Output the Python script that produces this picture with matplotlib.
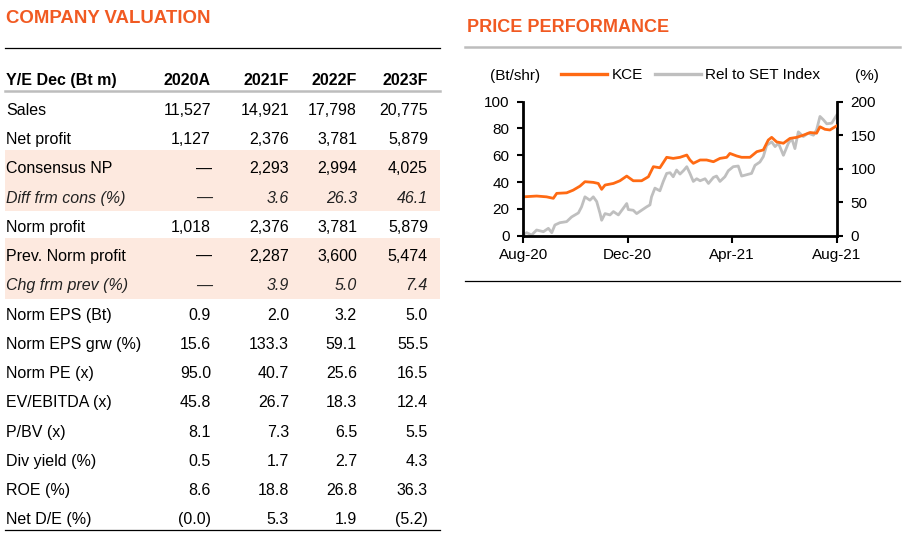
import matplotlib
matplotlib.use('Agg')
import matplotlib.pyplot as plt
from matplotlib.lines import Line2D
from matplotlib.patches import Rectangle

plt.rcParams['font.family'] = ['Liberation Sans', 'DejaVu Sans']

# ---------------- data ----------------
columns = ['2020A', '2021F', '2022F', '2023F']
row_labels = ['Sales', 'Net profit', 'Consensus NP', 'Diff frm cons (%)', 'Norm profit',
              'Prev. Norm profit', 'Chg frm prev (%)', 'Norm EPS (Bt)', 'Norm EPS grw (%)',
              'Norm PE (x)', 'EV/EBITDA (x)', 'P/BV (x)', 'Div yield (%)', 'ROE (%)', 'Net D/E (%)']
sales = ['11,527', '14,921', '17,798', '20,775']
net_profit = ['1,127', '2,376', '3,781', '5,879']
consensus_np = ['\u2014', '2,293', '2,994', '4,025']
diff_cons = ['\u2014', '3.6', '26.3', '46.1']
norm_profit = ['1,018', '2,376', '3,781', '5,879']
prev_norm_profit = ['\u2014', '2,287', '3,600', '5,474']
chg_prev = ['\u2014', '3.9', '5.0', '7.4']
norm_eps = ['0.9', '2.0', '3.2', '5.0']
norm_eps_grw = ['15.6', '133.3', '59.1', '55.5']
norm_pe = ['95.0', '40.7', '25.6', '16.5']
ev_ebitda = ['45.8', '26.7', '18.3', '12.4']
pbv = ['8.1', '7.3', '6.5', '5.5']
div_yield = ['0.5', '1.7', '2.7', '4.3']
roe = ['8.6', '18.8', '26.8', '36.3']
net_de = ['(0.0)', '5.3', '1.9', '(5.2)']
table_rows = [sales, net_profit, consensus_np, diff_cons, norm_profit, prev_norm_profit,
              chg_prev, norm_eps, norm_eps_grw, norm_pe, ev_ebitda, pbv, div_yield, roe, net_de]
italic_rows = {3, 6}
shaded_groups = [(2, 3), (5, 6)]

# price chart (x in months since Aug-20)
kce_months = [0.00, 0.51, 0.89, 1.15, 1.28, 1.66, 1.91, 2.17, 2.36, 2.68, 2.87, 3.00, 3.13,
              3.45, 3.70, 3.96, 4.21, 4.53, 4.79, 4.98, 5.23, 5.49, 5.74, 6.00, 6.26, 6.38,
              6.51, 6.77, 7.02, 7.28, 7.53, 7.79, 7.91, 8.17, 8.36, 8.68, 8.94, 9.19, 9.38,
              9.51, 9.70, 9.96, 10.21, 10.47, 10.72, 10.98, 11.23, 11.36, 11.55, 11.74, 12.00]
kce_price = [29.0, 29.6, 29.0, 27.9, 31.6, 32.0, 34.0, 37.0, 40.3, 39.8, 39.0, 34.6, 37.8,
             39.0, 41.0, 44.5, 41.0, 41.0, 44.0, 51.5, 50.7, 58.5, 57.7, 58.5, 60.2, 56.5,
             54.0, 56.5, 56.5, 55.2, 57.7, 58.5, 61.4, 59.5, 58.5, 58.5, 62.7, 64.0, 71.4,
             73.4, 70.0, 69.0, 72.6, 73.4, 75.0, 77.0, 76.5, 81.3, 79.4, 78.9, 82.0]
rel_months = [0.00, 0.13, 0.32, 0.51, 0.77, 0.96, 1.09, 1.21, 1.40, 1.66, 1.85, 2.11, 2.23,
              2.36, 2.55, 2.68, 2.81, 2.94, 3.00, 3.13, 3.32, 3.45, 3.64, 3.83, 3.96, 4.02,
              4.21, 4.34, 4.53, 4.72, 4.85, 4.91, 5.04, 5.23, 5.36, 5.49, 5.62, 5.74, 5.87,
              6.00, 6.13, 6.26, 6.38, 6.51, 6.64, 6.77, 6.96, 7.09, 7.28, 7.40, 7.53, 7.72,
              7.85, 8.04, 8.23, 8.36, 8.55, 8.74, 8.87, 9.06, 9.19, 9.32, 9.51, 9.64, 9.77,
              9.96, 10.15, 10.28, 10.40, 10.53, 10.72, 10.91, 11.11, 11.23, 11.36, 11.49,
              11.62, 11.81, 12.00]
rel_set = [2, 4.5, 1, 8.5, 6, 11, 4.5, 16, 19.4, 21, 28, 34, 43,
           58, 53, 58, 51, 33, 23, 33, 31, 36, 31, 41, 48, 39,
           38, 33, 38, 43, 46, 58, 71, 67, 81, 93, 94, 88, 98,
           92, 97, 103, 93, 81, 85, 82, 85, 78, 87, 89, 81, 88,
           97, 103, 104, 89, 91, 93, 105, 110, 118, 135, 140, 133, 138,
           120, 138, 145, 130, 155, 148, 153, 150, 158, 178, 173,
           167, 168, 180]
x_ticks = [0, 4, 8, 12]
x_tick_labels = ['Aug-20', 'Dec-20', 'Apr-21', 'Aug-21']
left_ticks = [0, 20, 40, 60, 80, 100]
right_ticks = [0, 50, 100, 150, 200]

# ---------------- style ----------------
TITLE_ORANGE = '#F15A22'
LINE_ORANGE = '#FF6A13'
LINE_GRAY = '#BFBFBF'
SHADE = '#FDE9DF'
W, H = 914, 545

fig = plt.figure(figsize=(W / 100, H / 100), dpi=100)
bg = fig.add_axes([0, 0, 1, 1])
bg.set_xlim(0, W)
bg.set_ylim(H, 0)
bg.axis('off')

def cap(fs):
    return fs * 100 / 72 * 0.716

# titles
TFS = 13.4
bg.text(6, 16.7 + cap(TFS) / 2, 'COMPANY VALUATION', fontsize=TFS, fontweight='bold',
        color=TITLE_ORANGE, va='baseline', ha='left')
bg.text(467, 25 + cap(TFS) / 2, 'PRICE PERFORMANCE', fontsize=13, fontweight='bold',
        color=TITLE_ORANGE, va='baseline', ha='left')

# table
FS = 11.5
col_right = [211, 289, 357, 428]
header_y = 79
row_y0 = 109.3
row_step = 29.24
band_half = 14.6

for a, b in shaded_groups:
    y_top = row_y0 + a * row_step - band_half - 3
    y_bot = row_y0 + b * row_step + band_half - 0.5
    bg.add_patch(Rectangle((5, y_top), 435, y_bot - y_top, facecolor=SHADE,
                           edgecolor='none', zorder=0))

bg.add_line(Line2D([5, 440], [48, 48], color='black', lw=0.9))
bg.add_line(Line2D([5, 440], [90.5, 90.5], color='#BDBDBD', lw=1.8))
bg.add_line(Line2D([5, 440], [530, 530], color='black', lw=0.9))

bg.text(6, header_y + cap(FS) / 2, 'Y/E Dec (Bt m)', fontsize=FS, fontweight='bold',
        va='baseline', ha='left')
for c, xr in zip(columns, col_right):
    bg.text(xr, header_y + cap(FS) / 2, c, fontsize=FS, fontweight='bold',
            va='baseline', ha='right')

for i, (lab, vals) in enumerate(zip(row_labels, table_rows)):
    y = row_y0 + i * row_step + cap(FS) / 2
    style = 'italic' if i in italic_rows else 'normal'
    color = '#222222' if i in italic_rows else 'black'
    bg.text(6, y, lab, fontsize=FS, style=style, color=color, va='baseline', ha='left')
    for v, xr in zip(vals, col_right):
        xx = xr + 1 if v == '\u2014' else xr
        bg.text(xx, y, v, fontsize=FS, style=style, color=color, va='baseline', ha='right')

# right side rules
bg.add_line(Line2D([465, 900], [47, 47], color='#BDBDBD', lw=1.8))
bg.add_line(Line2D([465, 900], [281, 281], color='black', lw=0.9))

# chart
ax_l, ax_r, ax_t, ax_b = 523.3, 836.7, 101.7, 235.7
ax = fig.add_axes([ax_l / W, 1 - ax_b / H, (ax_r - ax_l) / W, (ax_b - ax_t) / H])
ax2 = ax.twinx()
ax2.plot(rel_months, rel_set, color=LINE_GRAY, lw=2.0, solid_joinstyle='round')
ax.plot(kce_months, kce_price, color=LINE_ORANGE, lw=2.0, solid_joinstyle='round')
ax.set_zorder(ax2.get_zorder() + 1)
ax.patch.set_visible(False)

ax.set_xlim(0, 12)
ax.set_ylim(0, 100)
ax2.set_ylim(0, 200)
ax.set_xticks(x_ticks)
ax.set_xticklabels(x_tick_labels)
ax.set_yticks(left_ticks)
ax2.set_yticks(right_ticks)

CFS = 11
for s in ['top', 'right']:
    ax.spines[s].set_visible(False)
for s in ['top', 'left', 'bottom']:
    ax2.spines[s].set_visible(False)
for s in ['left', 'bottom']:
    ax.spines[s].set_linewidth(2.0)
ax2.spines['right'].set_linewidth(2.0)

ax.tick_params(axis='y', direction='out', length=4, width=1.5, pad=6, labelsize=CFS)
ax.tick_params(axis='x', direction='out', length=5, width=1.5, pad=4, labelsize=CFS)
ax2.tick_params(axis='y', direction='out', length=4, width=1.5, pad=6, labelsize=CFS)

handles = [Line2D([], [], color=LINE_ORANGE, lw=2.4), Line2D([], [], color=LINE_GRAY, lw=2.4)]
fig.legend(handles, ['KCE', 'Rel to SET Index'], loc='center left',
           bbox_to_anchor=(561 / W, 1 - 75 / H), ncol=2, frameon=False, fontsize=CFS,
           handlelength=3.0, handletextpad=0.3, columnspacing=0.8, borderpad=0,
           borderaxespad=0)
bg.text(490, 75 + cap(CFS) / 2, '(Bt/shr)', fontsize=CFS, va='baseline', ha='left')
bg.text(855, 75 + cap(CFS) / 2, '(%)', fontsize=CFS, va='baseline', ha='left')

fig.savefig('out.png', dpi=100)
